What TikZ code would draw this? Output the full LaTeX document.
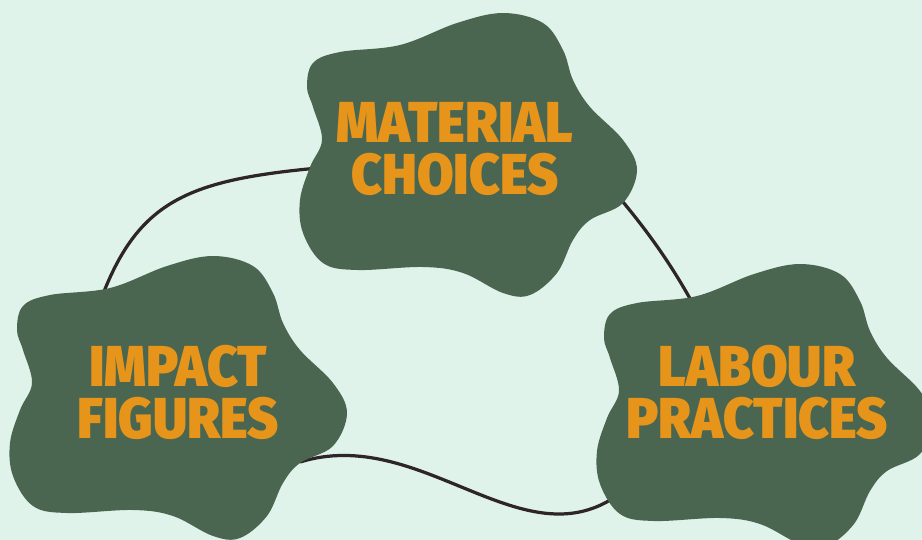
\documentclass[tikz,border=0pt]{standalone}
\usepackage{fontspec}
\setmainfont{Fira Sans}[UprightFont=* Black]
\definecolor{bgmint}{HTML}{DFF3EA}
\definecolor{blobgreen}{HTML}{4A6650}
\definecolor{labelorange}{HTML}{E6951A}
\definecolor{linkdark}{HTML}{2E2527}
\newcommand{\blobshape}{plot[smooth cycle,tension=0.6] coordinates {(307,87) (313,63) (340,52) (400,45) (457,23) (503,13) (543,23) (563,50) (573,80) (590,107) (623,140) (637,170) (623,203) (590,220) (573,240) (557,273) (530,295) (503,293) (463,273) (423,267) (357,270) (323,263) (303,233) (300,200) (310,167) (322,140) (313,107)}}
\tikzset{
  blob/.style={fill=blobgreen},
  link/.style={draw=linkdark,line width=2.3pt},
  label/.style={text=labelorange,align=center,xscale=0.92,font=\fontsize{41}{37}\selectfont}
}
\begin{document}
\begin{tikzpicture}[x=0.025cm,y=-0.025cm]
\useasboundingbox (0,0) rectangle (922,540);
\fill[bgmint] (0,0) rectangle (922,540);
% ends of the links
\coordinate (matW) at (318,168);
\coordinate (matE) at (618,196);
\coordinate (impN) at (103,294);
\coordinate (impE) at (300,462);
\coordinate (labN) at (693,304);
\coordinate (labW) at (615,497);
\draw[link] (matW) .. controls (190,180) and (140,200) .. (impN);
\draw[link] (matE) .. controls (645,228) and (670,262) .. (labN);
\draw[link] (impE) .. controls (420,425) and (520,560) .. (labW);
% blobs
\fill[blob] \blobshape;
\fill[blob,shift={(-290,243)}] \blobshape;
\fill[blob,shift={(297,251)}] \blobshape;
% labels
\node[label] (material) at (455,149) {MATERIAL\\CHOICES};
\node[label] (impact) at (178,392) {IMPACT\\FIGURES};
\node[label] (labour) at (757,392) {LABOUR\\PRACTICES};
\end{tikzpicture}
\end{document}
